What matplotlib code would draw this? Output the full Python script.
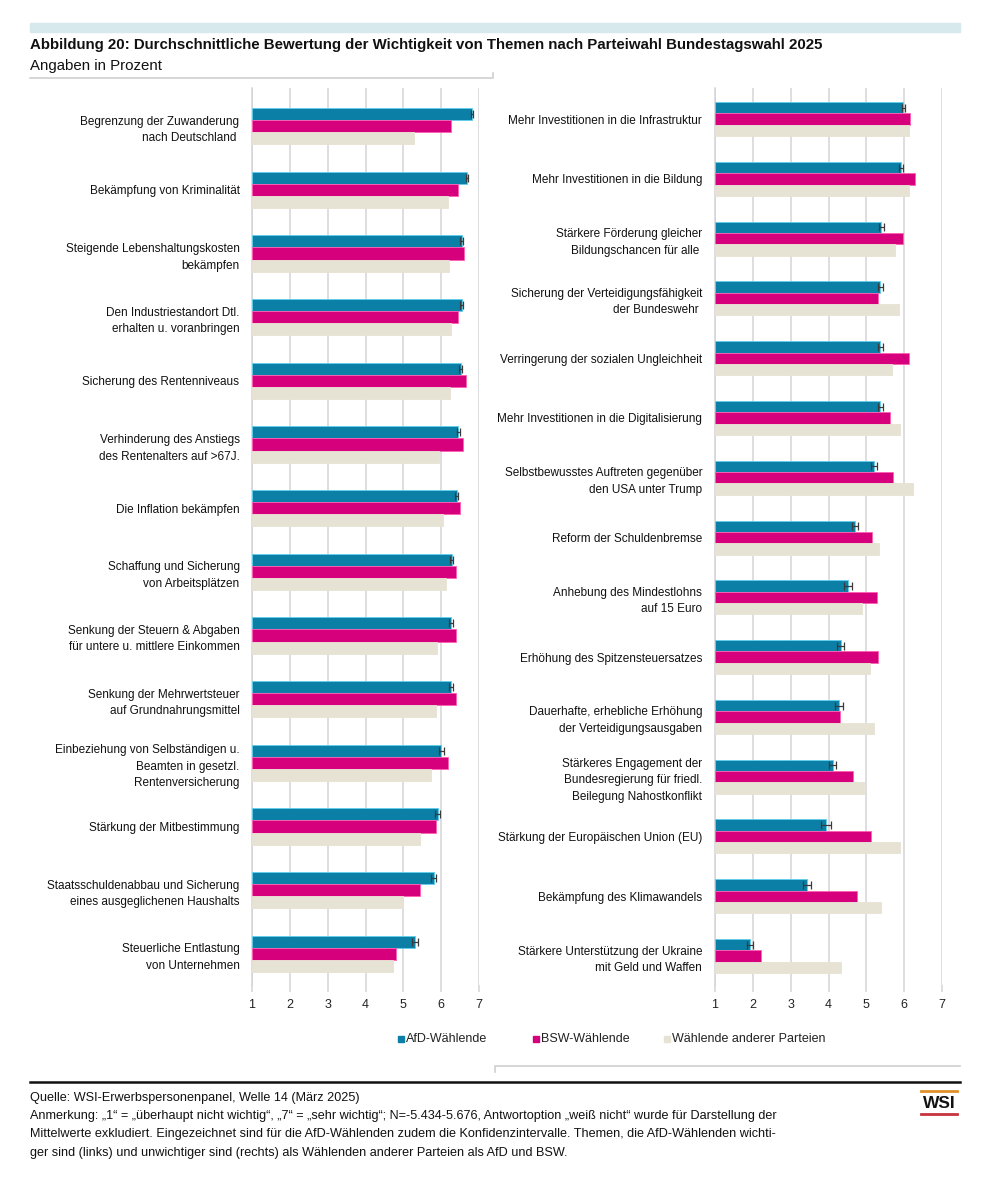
import matplotlib
matplotlib.use("Agg")
import matplotlib.pyplot as plt
from matplotlib import font_manager
from matplotlib.patches import Rectangle
from matplotlib.lines import Line2D
import numpy as np

# ---------------- data ----------------
left_topics = [
    "Begrenzung der Zuwanderung\nnach Deutschland ",
    "Bekämpfung von Kriminalität",
    "Steigende Lebenshaltungskosten\nbekämpfen",
    "Den Industriestandort Dtl.\nerhalten u. voranbringen",
    "Sicherung des Rentenniveaus",
    "Verhinderung des Anstiegs\ndes Rentenalters auf >67J.",
    "Die Inflation bekämpfen",
    "Schaffung und Sicherung\nvon Arbeitsplätzen",
    "Senkung der Steuern & Abgaben\nfür untere u. mittlere Einkommen",
    "Senkung der Mehrwertsteuer\nauf Grundnahrungsmittel",
    "Einbeziehung von Selbständigen u.\nBeamten in gesetzl.\nRentenversicherung",
    "Stärkung der Mitbestimmung",
    "Staatsschuldenabbau und Sicherung\neines ausgeglichenen Haushalts",
    "Steuerliche Entlastung\nvon Unternehmen",
]
left_afd = [6.81, 6.68, 6.54, 6.54, 6.52, 6.45, 6.41, 6.28, 6.26, 6.25, 6.00, 5.91, 5.80, 5.31]
left_bsw = [6.26, 6.45, 6.60, 6.44, 6.65, 6.57, 6.50, 6.40, 6.40, 6.38, 6.17, 5.87, 5.44, 4.81]
left_oth = [5.29, 6.19, 6.20, 6.26, 6.23, 5.95, 6.06, 6.13, 5.90, 5.86, 5.73, 5.45, 5.00, 4.74]
left_ci = [0.03, 0.03, 0.04, 0.04, 0.04, 0.04, 0.04, 0.04, 0.05, 0.05, 0.07, 0.06, 0.07, 0.08]

right_topics = [
    "Mehr Investitionen in die Infrastruktur",
    "Mehr Investitionen in die Bildung",
    "Stärkere Förderung gleicher\nBildungschancen für alle ",
    "Sicherung der Verteidigungsfähigkeit\nder Bundeswehr ",
    "Verringerung der sozialen Ungleichheit",
    "Mehr Investitionen in die Digitalisierung",
    "Selbstbewusstes Auftreten gegenüber\nden USA unter Trump",
    "Reform der Schuldenbremse",
    "Anhebung des Mindestlohns\nauf 15 Euro",
    "Erhöhung des Spitzensteuersatzes",
    "Dauerhafte, erhebliche Erhöhung\nder Verteidigungsausgaben",
    "Stärkeres Engagement der\nBundesregierung für friedl.\nBeilegung Nahostkonflikt",
    "Stärkung der Europäischen Union (EU)",
    "Bekämpfung des Klimawandels",
    "Stärkere Unterstützung der Ukraine\nmit Geld und Waffen",
]
right_afd = [5.97, 5.92, 5.39, 5.37, 5.37, 5.37, 5.20, 4.70, 4.51, 4.32, 4.28, 4.11, 3.94, 3.44, 1.93]
right_bsw = [6.14, 6.29, 5.97, 5.31, 6.12, 5.61, 5.71, 5.15, 5.29, 5.31, 4.31, 4.65, 5.13, 4.74, 2.22]
right_oth = [6.13, 6.11, 5.75, 5.85, 5.68, 5.88, 6.22, 5.34, 4.88, 5.10, 5.19, 4.93, 5.89, 5.38, 4.32]
right_ci = [0.04, 0.05, 0.06, 0.07, 0.07, 0.07, 0.08, 0.09, 0.10, 0.10, 0.10, 0.10, 0.13, 0.11, 0.09]

series_names = ["AfD-Wählende", "BSW-Wählende", "Wählende anderer Parteien"]
x_ticks = [1, 2, 3, 4, 5, 6, 7]

# ---------------- style ----------------
avail = {f.name for f in font_manager.fontManager.ttflist}
BASE = "Liberation Sans" if "Liberation Sans" in avail else "DejaVu Sans"
plt.rcParams["font.family"] = [BASE, "DejaVu Sans"]

C_AFD = "#0b7fa6"
C_BSW = "#d6007c"
C_OTH = "#e7e3d4"
E_AFD = "#5fd0ee"
E_BSW = "#ff5fb4"
GRID = "#d4d4d8"

W, H = 989, 1200
fig = plt.figure(figsize=(W / 100, H / 100), dpi=100)


def fx(px):
    return px / W


def fy(py):
    return 1 - py / H


def draw_panel(rect, topics, afd, bsw, oth, ci, ylim):
    ax = fig.add_axes(rect)
    n = len(topics)
    y = np.arange(n)
    h = 0.19
    ax.barh(y - h, np.array(afd) - 1, left=1, height=h, color=C_AFD,
            edgecolor=E_AFD, linewidth=0.6, zorder=3)
    ax.barh(y, np.array(bsw) - 1, left=1, height=h, color=C_BSW,
            edgecolor=E_BSW, linewidth=0.6, zorder=3)
    ax.barh(y + h, np.array(oth) - 1, left=1, height=h, color=C_OTH,
            edgecolor=C_OTH, linewidth=0.6, zorder=3)
    ax.errorbar(afd, y - h, xerr=ci, fmt="none", ecolor="#3a3a3a",
                elinewidth=0.9, capsize=2.6, capthick=0.9, zorder=4)
    ax.set_xlim(1, 7)
    ax.set_ylim(*ylim)
    ax.set_xticks(x_ticks)
    ax.set_xticklabels([str(t) for t in x_ticks], fontsize=9, color="#222222")
    ax.set_yticks(y)
    ax.set_yticklabels(topics, fontsize=8.5, color="#111111", linespacing=1.5)
    ax.tick_params(axis="y", length=0, pad=9)
    ax.tick_params(axis="x", length=5, color=GRID, width=1.1, pad=5)
    ax.grid(axis="x", color=GRID, linewidth=1.1, zorder=0)
    for s in ["top", "right", "bottom"]:
        ax.spines[s].set_visible(False)
    ax.spines["left"].set_color(GRID)
    ax.spines["left"].set_linewidth(1.1)
    ax.set_axisbelow(True)
    return ax


ytop, ybot = 88, 985
draw_panel([fx(252), fy(ybot), fx(479) - fx(252), fy(ytop) - fy(ybot)],
           left_topics, left_afd, left_bsw, left_oth, left_ci, (13.49, -0.60))
draw_panel([fx(714.7), fy(ybot), fx(942.3) - fx(714.7), fy(ytop) - fy(ybot)],
           right_topics, right_afd, right_bsw, right_oth, right_ci, (14.485, -0.52))

# ---------------- header ----------------
fig.patches.append(Rectangle((fx(30), fy(32)), fx(960) - fx(30), fy(23) - fy(32),
                             transform=fig.transFigure, color="#d8e9ee", zorder=0))
fig.text(fx(30), fy(45), "Abbildung 20: Durchschnittliche Bewertung der Wichtigkeit von Themen nach Parteiwahl Bundestagswahl 2025",
         fontsize=10.85, fontweight="bold", va="center", ha="left", color="#111111")
fig.text(fx(30), fy(66), "Angaben in Prozent", fontsize=10.8, va="center", ha="left",
         color="#111111")
fig.lines.append(Line2D([fx(30), fx(493), fx(493)], [fy(78), fy(78), fy(73)],
                        transform=fig.transFigure, color="#d0d0d0", linewidth=1.2))

# ---------------- legend ----------------
leg_items = [(398, series_names[0], C_AFD), (533, series_names[1], C_BSW), (664, series_names[2], C_OTH)]
for xpx, name, col in leg_items:
    fig.patches.append(Rectangle((fx(xpx), fy(1042)), fx(6), 6 / H,
                                 transform=fig.transFigure, color=col))
    fig.text(fx(xpx + 8), fy(1039), name, fontsize=9, va="center", ha="left",
             color="#222222")
fig.lines.append(Line2D([fx(495), fx(495), fx(960)], [fy(1072), fy(1066), fy(1066)],
                        transform=fig.transFigure, color="#d0d0d0", linewidth=1.2))

# ---------------- footer ----------------
fig.lines.append(Line2D([fx(30), fx(960)], [fy(1082), fy(1082)],
                        transform=fig.transFigure, color="#111111", linewidth=1.8))
footer = [
    "Quelle: WSI-Erwerbspersonenpanel, Welle 14 (März 2025)",
    "Anmerkung: „1“ = „überhaupt nicht wichtig“, „7“ = „sehr wichtig“; N=-5.434-5.676, Antwortoption „weiß nicht“ wurde für Darstellung der",
    "Mittelwerte exkludiert. Eingezeichnet sind für die AfD-Wählenden zudem die Konfidenzintervalle. Themen, die AfD-Wählenden wichti-",
    "ger sind (links) und unwichtiger sind (rechts) als Wählenden anderer Parteien als AfD und BSW.",
]
for i, line in enumerate(footer):
    fig.text(fx(30), fy(1098 + i * 18.2), line, fontsize=9.1, va="center", ha="left",
             color="#111111")

# WSI logo
fig.lines.append(Line2D([fx(921), fx(957)], [fy(1091), fy(1091)],
                        transform=fig.transFigure, color="#e0902a", linewidth=2))
fig.text(fx(939), fy(1103), "WSI", fontsize=12.5, fontweight="bold", ha="center",
         va="center", color="#111111")
fig.lines.append(Line2D([fx(921), fx(957)], [fy(1114), fy(1114)],
                        transform=fig.transFigure, color="#c8323c", linewidth=2))

fig.savefig("out.png", dpi=100, facecolor="white")
